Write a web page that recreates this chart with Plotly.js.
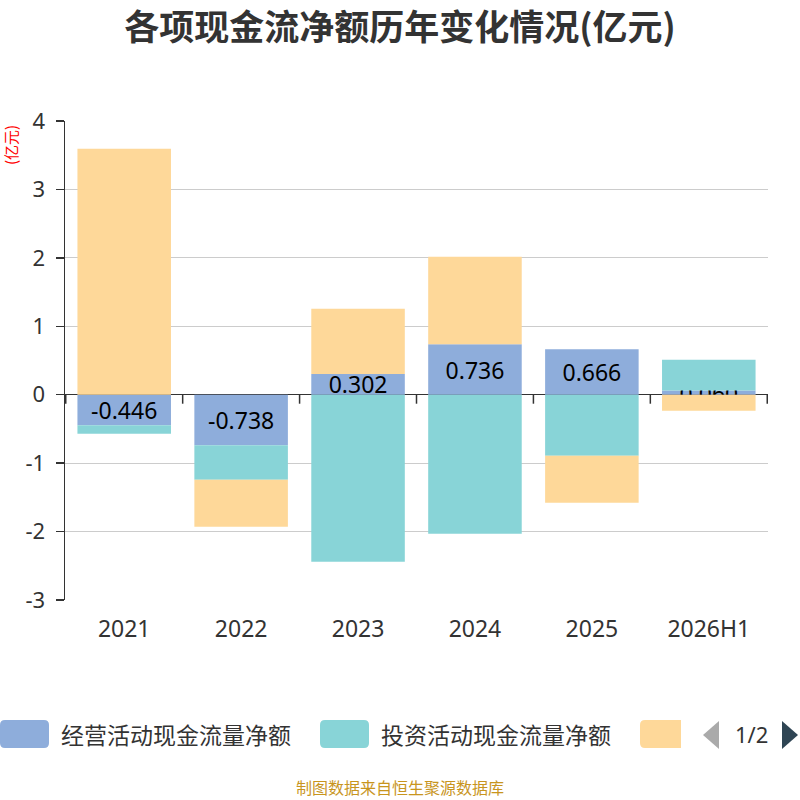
<!DOCTYPE html>
<html>
<head>
<meta charset="utf-8">
<script src="https://cdn.plot.ly/plotly-3.0.1.min.js"></script>
<style>
  html, body { margin: 0; padding: 0; background: #fff; }
  #chart { width: 800px; height: 800px; }
</style>
</head>
<body>
<div id="chart"></div>
<script>
const years = ['2021', '2022', '2023', '2024', '2025', '2026H1'];
const operating = [-0.446, -0.738, 0.302, 0.736, 0.666, 0.060];
const investing = [-0.124, -0.505, -2.442, -2.032, -0.892, 0.452];
const financing = [3.596, -0.687, 0.955, 1.282, -0.687, -0.234];
const names = ['经营活动现金流量净额', '投资活动现金流量净额', '筹资活动现金流量净额'];
const colors = ['#8eaddb', '#88d4d7', '#fed899'];
const yTicks = [-3, -2, -1, 0, 1, 2, 3, 4];
const yTickText = ['-3', '-2', '-1', '0', '1', '2', '3', '4'];

const W = 800, H = 800;
const margin = {l: 65, r: 32, t: 121, b: 200};
const plotW = W - margin.l - margin.r;
const plotH = H - margin.t - margin.b;
// pixel -> paper helpers for legend and decorations
const px = v => (v - margin.l) / plotW;
const py = v => (H - margin.b - v) / plotH;

const font = '"Noto Sans", "Noto Sans CJK SC", sans-serif';
const cjk = '"Noto Sans CJK SC", "Noto Sans", sans-serif';

let data = [];
[operating, investing, financing].forEach((vals, i) => {
	data.push({
		x: years,
		y: vals,
		type: 'bar',
		name: names[i],
		marker: {color: colors[i]},
		showlegend: false,
		text: i === 0 ? vals.map(v => v.toFixed(3)) : undefined,
		textposition: i === 0 ? 'inside' : 'none',
		insidetextanchor: 'middle',
		constraintext: 'none',
		textfont: {size: 23, color: '#000', family: font},
		hoverinfo: 'x+y+name'
	});
});

function roundRect(x0, y0, x1, y1, r, roundRight=true) {
	const X = v => px(v), Y = v => py(v);
	let p = `M ${X(x0 + r)},${Y(y0)}`;
	if (roundRight) {
		p += ` L ${X(x1 - r)},${Y(y0)} Q ${X(x1)},${Y(y0)} ${X(x1)},${Y(y0 + r)}`;
		p += ` L ${X(x1)},${Y(y1 - r)} Q ${X(x1)},${Y(y1)} ${X(x1 - r)},${Y(y1)}`;
	} else {
		p += ` L ${X(x1)},${Y(y0)} L ${X(x1)},${Y(y1)}`;
	}
	p += ` L ${X(x0 + r)},${Y(y1)} Q ${X(x0)},${Y(y1)} ${X(x0)},${Y(y1 - r)}`;
	p += ` L ${X(x0)},${Y(y0 + r)} Q ${X(x0)},${Y(y0)} ${X(x0 + r)},${Y(y0)} Z`;
	return p;
}

let shapes = [];
// ticks on the zero axis at category boundaries
for (let i = 0; i <= years.length; i++) {
	shapes.push({
		type: 'line', xref: 'x', yref: 'y',
		x0: i - 0.5, x1: i - 0.5,
		ysizemode: 'pixel', yanchor: 0, y0: 0, y1: -9,
		line: {color: '#333', width: 1.5}
	});
}
// legend swatches
shapes.push({type: 'path', xref: 'paper', yref: 'paper', path: roundRect(0, 720, 49, 748, 5),
	fillcolor: colors[0], line: {width: 0}});
shapes.push({type: 'path', xref: 'paper', yref: 'paper', path: roundRect(320, 720, 369, 748, 5),
	fillcolor: colors[1], line: {width: 0}});
shapes.push({type: 'path', xref: 'paper', yref: 'paper', path: roundRect(640, 720, 681, 748, 5, false),
	fillcolor: colors[2], line: {width: 0}});
// legend page arrows
shapes.push({type: 'path', xref: 'paper', yref: 'paper',
	path: `M ${px(703)},${py(735)} L ${px(719)},${py(721)} L ${px(719)},${py(749)} Z`,
	fillcolor: '#aaaaaa', line: {width: 0}});
shapes.push({type: 'path', xref: 'paper', yref: 'paper',
	path: `M ${px(782)},${py(721)} L ${px(798)},${py(735)} L ${px(782)},${py(749)} Z`,
	fillcolor: '#2f4554', line: {width: 0}});

const ann = (text, x, y, size, color, fam, xanchor='center', extra={}) => Object.assign({
	text: text, xref: 'paper', yref: 'paper', x: px(x), y: py(y),
	xanchor: xanchor, yanchor: 'middle', showarrow: false,
	font: {size: size, color: color, family: fam}
}, extra);

let annotations = [
	ann('(亿元)', 10, 145, 15, '#ff0000', cjk, 'center', {textangle: -90}),
	ann(names[0], 59, 734, 23, '#333', cjk, 'left'),
	ann(names[1], 379, 734, 23, '#333', cjk, 'left'),
	ann('1/2', 751, 734, 22, '#333', font),
	ann('制图数据来自恒生聚源数据库', 400, 787, 16, '#c8951e', cjk)
];

let layout = {
	width: W,
	height: H,
	margin: margin,
	paper_bgcolor: '#fff',
	plot_bgcolor: '#fff',
	barmode: 'relative',
	bargap: 0.2,
	showlegend: false,
	title: {
		text: '<b>各项现金流净额历年变化情况(亿元)</b>',
		x: 0.5, xref: 'container',
		y: 1 - 28 / H, yref: 'container', yanchor: 'middle',
		font: {size: 35, color: '#333', family: cjk}
	},
	xaxis: {
		type: 'category',
		showline: false,
		showgrid: false,
		ticks: '',
		ticklabelstandoff: 13,
		tickfont: {size: 23, color: '#333', family: font},
		fixedrange: true
	},
	yaxis: {
		range: [-3, 4],
		tickmode: 'array',
		tickvals: yTicks,
		ticktext: yTickText,
		showline: true,
		linecolor: '#333',
		linewidth: 1.5,
		ticks: 'outside',
		ticklen: 8,
		tickwidth: 1.5,
		tickcolor: '#333',
		ticklabelstandoff: 6,
		showgrid: true,
		gridcolor: '#cccccc',
		gridwidth: 1,
		zeroline: true,
		zerolinecolor: '#333',
		zerolinewidth: 1.5,
		tickfont: {size: 22, color: '#333', family: font},
		fixedrange: true
	},
	shapes: shapes,
	annotations: annotations
};

Plotly.newPlot('chart', data, layout, {displayModeBar: false, staticPlot: true});
</script>
</body>
</html>
